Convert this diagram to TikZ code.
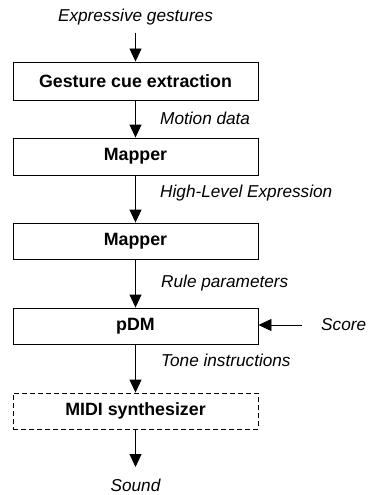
\documentclass[tikz,border=0pt]{standalone}
\usepackage{fontspec}
\setmainfont{Liberation Sans}
\usetikzlibrary{arrows.meta}
\begin{document}
\begin{tikzpicture}[x=1pt,y=-1pt,
  blk/.style={draw=black,line width=0.9pt,minimum width=245pt,inner sep=0pt,
    font=\fontsize{17.8}{20}\selectfont\bfseries},
  lbl/.style={font=\fontsize{17.2}{20}\selectfont\itshape,inner sep=0pt},
  flow/.style={line width=0.9pt,-{Triangle[length=13pt,width=12pt]}}]
\useasboundingbox (0,0) rectangle (369,495);
\node[blk,minimum height=38pt] (gce) at (135.5,81) {Gesture cue extraction};
\node[blk,minimum height=37pt] (m1) at (135.5,156.5) {Mapper};
\node[blk,minimum height=36pt] (m2) at (135.5,241) {Mapper};
\node[blk,minimum height=36pt] (pdm) at (135.5,326) {pDM};
\node[blk,minimum height=36pt,dash pattern=on 5pt off 3pt] (midi) at (135.5,411) {MIDI synthesizer};
\node[lbl] (eg) at (135.5,17) {Expressive gestures};
\node[lbl,anchor=west] (md) at (160,118) {Motion data};
\node[lbl,anchor=west] (hle) at (160,193) {High-Level Expression};
\node[lbl,anchor=west] (rp) at (161,283) {Rule parameters};
\node[lbl,anchor=west] (ti) at (161,360) {Tone instructions};
\node[lbl,anchor=west] (sc) at (321,325) {Score};
\node[lbl] (snd) at (135.5,485) {Sound};
\coordinate (egb) at (135.5,33);
\coordinate (sndt) at (135.5,467);
\coordinate (scs) at (302,325);
\draw[flow] (egb) -- (gce.north);
\draw[flow] (gce.south) -- (m1.north);
\draw[flow] (m1.south) -- (m2.north);
\draw[flow] (m2.south) -- (pdm.north);
\draw[flow] (pdm.south) -- (midi.north);
\draw[flow] (midi.south) -- (sndt);
\draw[flow] (scs) -- (pdm.east |- scs);
\end{tikzpicture}
\end{document}
